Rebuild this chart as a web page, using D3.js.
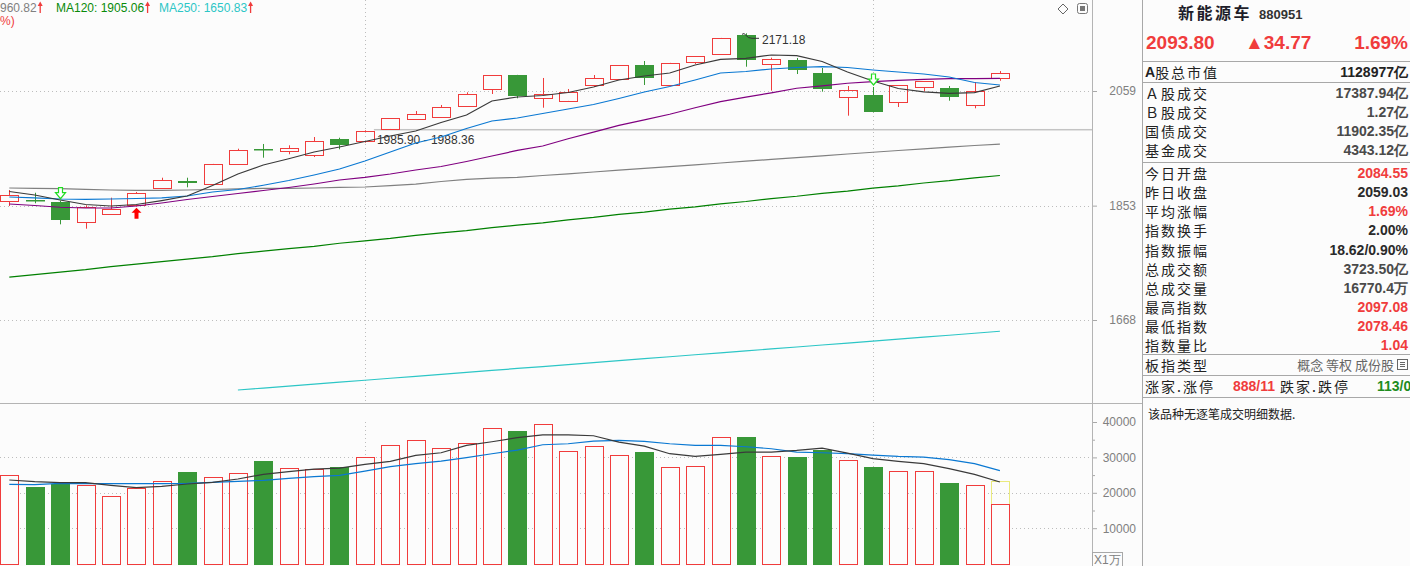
<!DOCTYPE html>
<html><head><meta charset="utf-8">
<script src="https://cdn.jsdelivr.net/npm/d3@7"></script>
<style>
body{margin:0;background:#fcfcfc;}
svg{display:block;font-family:"Liberation Sans",Arial,sans-serif;}
</style></head>
<body><svg id="c" width="1410" height="566"></svg>
<script>
// ---------- DATA ----------
const days = d3.range(40);
const open  = [1860.4,1862.6,1858.7,1825.8,1838.3,1853.6,1882.8,1894.9,1889.9,1925.0,1952.6,1949.0,1941.8,1970.1,1965.9,1988.4,2007.2,2009.8,2030.2,2062.2,2089.5,2046.4,2040.7,2071.0,2081.3,2108.8,2071.0,2115.2,2129.7,2167.8,2110.2,2119.1,2093.4,2047.1,2051.4,2037.7,2066.0,2064.7,2032.1,2084.55];
const close = [1870.7,1860.2,1829.2,1850.2,1846.8,1874.1,1896.7,1892.5,1924.8,1949.7,1950.3,1953.3,1965.9,1959.8,1984.1,2007.9,2015.9,2028.4,2053.3,2088.9,2049.6,2053.3,2057.1,2083.8,2108.2,2084.3,2112.7,2125.8,2161.2,2119.1,2120.5,2099.7,2062.2,2060.3,2020.2,2069.8,2077.5,2047.1,2059.03,2093.80];
const high  = [1879.8,1875.1,1861.4,1853.6,1866.6,1876.4,1901.2,1901.2,1925.5,1952.6,1961.1,1958.7,1973.7,1972.4,1985.90,2008.5,2021.5,2032.7,2056.5,2089.2,2089.8,2083.8,2062.8,2089.5,2108.8,2116.6,2113.0,2126.2,2162.0,2171.18,2123.0,2122.5,2103.0,2068.5,2066.6,2070.2,2078.0,2068.5,2076.1,2097.08];
const low   = [1852.4,1857.0,1821.4,1814.1,1837.5,1852.0,1882.5,1884.5,1889.5,1924.5,1936.5,1942.6,1937.7,1951.5,1963.4,1988.36,2004.8,2009.5,2029.8,2053.3,2045.2,2027.6,2040.3,2066.6,2081.0,2070.4,2069.8,2110.8,2129.4,2105.5,2059.6,2091.4,2057.7,2012.8,2019.1,2028.9,2058.4,2040.7,2026.5,2078.46];
const volume = [25130,21550,22590,22310,19210,21460,23440,25770,24560,25490,28870,27100,26820,27270,30200,33580,34990,32730,34140,38370,37320,39490,31890,33300,30760,31410,27380,27660,35830,35630,30480,30000,31970,29350,27180,26250,26250,22680,22310,16770];
const projectedVolume = 23440;

const ma5  = [1877.2,1871.2,1862.6,1854.9,1852.4,1854.9,1861.7,1869.5,1887.5,1907.7,1923.5,1934.7,1946.7,1955.6,1965.6,1975.5,1984.6,2000.2,2014.0,2040.2,2047.7,2050.5,2056.2,2066.6,2079.9,2087.6,2093.4,2108.8,2119.9,2121.9,2128.3,2127.0,2115.6,2095.3,2078.0,2063.7,2057.5,2054.6,2055.8,2068.5];
const ma10 = [1867.8,1866.1,1864.3,1863.8,1864.3,1865.2,1866.1,1869.5,1876.4,1880.7,1888.0,1896.3,1905.9,1916.5,1930.6,1946.7,1962.9,1973.7,1989.2,2003.0,2008.5,2016.8,2025.2,2033.6,2044.8,2057.1,2067.5,2079.9,2093.4,2096.3,2101.1,2104.0,2105.5,2104.0,2099.1,2095.3,2091.4,2085.7,2075.2,2070.4];
const ma20 = [1855.8,1853.2,1850.2,1849.0,1849.0,1852.4,1857.5,1863.5,1868.6,1873.8,1879.0,1884.1,1890.2,1897.2,1901.9,1907.7,1914.7,1920.9,1929.8,1939.5,1949.5,1957.5,1970.5,1982.5,1995.0,2005.0,2015.5,2027.5,2039.0,2047.5,2055.5,2064.2,2068.6,2073.7,2076.7,2079.4,2081.3,2082.5,2082.5,2083.2];
const ma60 = [1883.3,1882.8,1882.1,1881.0,1879.8,1879.3,1879.3,1879.8,1880.7,1881.6,1882.5,1882.8,1883.3,1884.2,1885.0,1887.3,1889.9,1894.6,1898.4,1900.3,1901.9,1905.1,1908.0,1911.2,1914.4,1917.5,1920.7,1923.9,1927.1,1930.3,1933.5,1936.7,1939.9,1943.1,1946.2,1949.4,1952.4,1955.5,1958.3,1960.82];
const ma120 = [1735,1739,1743,1747,1752,1756,1760,1764,1768,1773,1777,1781,1785,1790,1794,1798,1803,1807,1811,1816,1820,1824,1829,1833,1838,1842,1847,1851,1856,1860,1865,1869,1874,1878,1883,1887,1892,1896,1901,1905.06];
const ma250 = [null,null,null,null,null,null,null,null,null,1564.0,1566.8,1569.6,1572.5,1575.3,1578.1,1581.0,1583.8,1586.7,1589.5,1592.4,1595.3,1598.1,1601.0,1603.9,1606.8,1609.7,1612.6,1615.5,1618.4,1621.3,1624.2,1627.1,1630.1,1633.0,1635.9,1638.9,1641.8,1644.8,1647.8,1650.83];
const volMa5  = [23610,23150,22870,22870,22110,21470,21830,22480,22960,23890,25210,25970,26700,26990,28030,28870,30560,31320,33380,34420,35580,36390,36390,36110,34310,33180,31040,30280,30850,31490,31490,31970,32620,31210,29630,28870,28230,26820,25210,23040];
const volMa10 = [22390,22310,22680,22590,22590,22590,22590,22680,22960,23240,23520,24080,24560,24930,26140,27380,28230,28960,29920,31040,32080,33580,33860,34590,34790,34510,33860,33380,33380,33010,32450,31490,31320,31040,30650,30280,30080,29350,28230,26250];

const priceTicks = [2059, 1853, 1668];
const volTicks = [10000, 20000, 30000, 40000];
const volMinorTicks = [15000, 25000, 35000];
const volGrid = [10000, 20000, 30000];
const monthStarts = [14, 34];
const gapLow = 1985.90, gapHigh = 1988.36, gapFrom = 14;
const peakIndex = 29;
const buySignals = [5];
const sellSignals = [2, 34];

const headerItems = [["960.82","#808080"],["MA120: 1905.06","#098a09"],["MA250: 1650.83","#2cc6c6"]];

const quoteName = "新能源车", quoteCode = "880951";
const quoteTop = ["2093.80","▲34.77","1.69%"];
const mktLabel = "A股总市值", mktValue = "1128977亿";
const tradeLabels = ["Ａ股成交","Ｂ股成交","国债成交","基金成交"];
const tradeValues = ["17387.94亿","1.27亿","11902.35亿","4343.12亿"];
const statLabels = ["今日开盘","昨日收盘","平均涨幅","指数换手","指数振幅","总成交额","总成交量","最高指数","最低指数","指数量比"];
const statValues = ["2084.55","2059.03","1.69%","2.00%","18.62/0.90%","3723.50亿","16770.4万","2097.08","2078.46","1.04"];
const statKinds  = ["up","flat","up","flat","flat","gray","gray","up","up","up"];

// ---------- STYLE ----------
const RED = "#f03c3c", GREEN = "#389838", BG = "#fcfcfc";
const svg = d3.select("#c");
svg.append("rect").attr("width",1410).attr("height",566).attr("fill",BG);

const chartRight = 1092, panelLeft = 1142, priceBottom = 403;
const x = d3.scaleLinear().domain([0, 39]).range([9.3, 999.9]);
const y = d3.scaleLog().domain([1668, 2059]).range([320, 91]);
const yv = d3.scaleLinear().domain([0, 40000]).range([563.6, 422]);
const cx = i => Math.round(x(i));

const defs = svg.append("defs");
defs.append("clipPath").attr("id","cp").append("rect").attr("x",0).attr("y",0).attr("width",chartRight).attr("height",priceBottom);
defs.append("clipPath").attr("id","cv").append("rect").attr("x",0).attr("y",priceBottom+1).attr("width",chartRight).attr("height",566-priceBottom);

const gp = svg.append("g").attr("clip-path","url(#cp)");
const gv = svg.append("g").attr("clip-path","url(#cv)");

// gridlines
gp.selectAll(".pg").data(priceTicks).join("line")
  .attr("x1",0).attr("x2",chartRight).attr("y1",d=>Math.round(y(d))+0.5).attr("y2",d=>Math.round(y(d))+0.5)
  .attr("stroke","#bdbdbd").attr("stroke-dasharray","1,3");
gv.selectAll(".vg").data(volGrid).join("line")
  .attr("x1",0).attr("x2",chartRight).attr("y1",d=>Math.round(yv(d))+0.5).attr("y2",d=>Math.round(yv(d))+0.5)
  .attr("stroke","#bdbdbd").attr("stroke-dasharray","1,3");
gp.selectAll(".mv").data(monthStarts).join("line")
  .attr("x1",d=>cx(d)+0.5).attr("x2",d=>cx(d)+0.5).attr("y1",0).attr("y2",priceBottom)
  .attr("stroke","#bdbdbd").attr("stroke-dasharray","1,3");
gv.selectAll(".mv").data(monthStarts).join("line")
  .attr("x1",d=>cx(d)+0.5).attr("x2",d=>cx(d)+0.5).attr("y1",yv(40000)).attr("y2",566)
  .attr("stroke","#bdbdbd").attr("stroke-dasharray","1,3");

// long MAs
const line = d3.line().defined(d=>d!=null).x((d,i)=>x(i)).y(d=>y(d));
[[ma250,"#2cc6c6"],[ma120,"#008000"],[ma60,"#808080"]].forEach(([s,c])=>{
  gp.append("path").attr("d",line(s)).attr("fill","none").attr("stroke",c).attr("stroke-width",1.2);
});

// gap band
gp.append("rect").attr("x",x(gapFrom)+9).attr("width",chartRight-(x(gapFrom)+9))
  .attr("y",y(gapHigh)).attr("height",Math.max(1.5,y(gapLow)-y(gapHigh))).attr("fill","#c4c4c4");
gp.append("text").attr("x",x(gapFrom)+12).attr("y",y(gapLow)+14).attr("font-size",12).attr("fill","#333")
  .text(gapLow.toFixed(2)+" - "+gapHigh.toFixed(2));

// candles
days.forEach(i=>{
  const up = close[i] >= open[i];
  const c = cx(i);
  const g = gp.append("g");
  if (up) {
    const top = Math.round(y(close[i])), bot = Math.round(y(open[i]));
    g.append("line").attr("x1",c+0.5).attr("x2",c+0.5).attr("y1",y(high[i])).attr("y2",top).attr("stroke",RED);
    g.append("line").attr("x1",c+0.5).attr("x2",c+0.5).attr("y1",bot).attr("y2",y(low[i])).attr("stroke",RED);
    g.append("rect").attr("x",c-8.5).attr("y",top+0.5).attr("width",18).attr("height",Math.max(1,bot-top))
      .attr("fill","none").attr("stroke",RED);
  } else {
    const top = Math.round(y(open[i])), bot = Math.round(y(close[i]));
    g.append("line").attr("x1",c+0.5).attr("x2",c+0.5).attr("y1",y(high[i])).attr("y2",y(low[i])).attr("stroke",GREEN);
    g.append("rect").attr("x",c-9).attr("y",top).attr("width",19).attr("height",Math.max(1.5,bot-top)).attr("fill",GREEN);
  }
});

// short MAs on top
[[ma20,"#800080"],[ma10,"#0a78d2"],[ma5,"#3a3a3a"]].forEach(([s,c])=>{
  gp.append("path").attr("d",line(s)).attr("fill","none").attr("stroke",c).attr("stroke-width",1.2);
});

// peak annotation
{
  const px = cx(peakIndex), py = y(high[peakIndex]);
  gp.append("path").attr("d",`M${px-4},${py+1} Q${px-2},${py-1} ${px},${py+2} Q${px+2},${py+5} ${px+6},${py+5} L${px+13},${py+5}`)
    .attr("fill","none").attr("stroke","#333").attr("stroke-width",1);
  gp.append("text").attr("x",px+16).attr("y",py+11).attr("font-size",12).attr("fill","#333").text(high[peakIndex].toFixed(2));
}

// signal arrows
sellSignals.forEach(i=>{
  const c = cx(i)+0.5, b = y(high[i]) - 2, t = b - 11;
  gp.append("path").attr("d",`M${c-2},${t} L${c+2},${t} L${c+2},${t+5} L${c+5},${t+5} L${c},${b} L${c-5},${t+5} L${c-2},${t+5} Z`)
    .attr("fill","#fff").attr("stroke","#22dd22").attr("stroke-width",1.2);
});
buySignals.forEach(i=>{
  const c = cx(i)+0.5, t = y(low[i]) + 1.5, b = t + 11;
  gp.append("path").attr("d",`M${c},${t} L${c+5},${t+5} L${c+2},${t+5} L${c+2},${b} L${c-2},${b} L${c-2},${t+5} L${c-5},${t+5} Z`)
    .attr("fill","#ff0000");
});

// volume
days.forEach(i=>{
  const up = close[i] >= open[i];
  const c = cx(i);
  const top = Math.round(yv(volume[i])), bot = Math.round(yv(0));
  if (i === days.length-1) {
    const pt = Math.round(yv(projectedVolume));
    gv.append("rect").attr("x",c-8.5).attr("y",pt+0.5).attr("width",18).attr("height",bot-pt)
      .attr("fill","none").attr("stroke","#d8d800").attr("stroke-dasharray","1,1");
  }
  if (up) {
    gv.append("rect").attr("x",c-8.5).attr("y",top+0.5).attr("width",18).attr("height",bot-top)
      .attr("fill",BG).attr("stroke",RED);
  } else {
    gv.append("rect").attr("x",c-9).attr("y",top).attr("width",19).attr("height",bot-top+1).attr("fill",GREEN);
  }
});
const vline = d3.line().x((d,i)=>x(i)).y(d=>yv(d));
[[volMa10,"#0a78d2"],[volMa5,"#3a3a3a"]].forEach(([s,c])=>{
  gv.append("path").attr("d",vline(s)).attr("fill","none").attr("stroke",c).attr("stroke-width",1.2);
});

// axes
const ax = svg.append("g").attr("transform",`translate(${chartRight},0)`)
  .call(d3.axisRight(y).tickValues(priceTicks).tickSize(5).tickFormat(d3.format("d")));
const avx = svg.append("g").attr("transform",`translate(${chartRight},0)`)
  .call(d3.axisRight(yv).tickValues(volTicks).tickSize(5).tickFormat(d3.format("d")));
const avm = svg.append("g").attr("transform",`translate(${chartRight},0)`)
  .call(d3.axisRight(yv).tickValues(volMinorTicks).tickSize(3).tickFormat(""));
[ax,avx,avm].forEach(a=>{
  a.select(".domain").remove();
  a.selectAll(".tick line").attr("stroke","#a8a8a8");
  a.selectAll(".tick text").attr("x",44).attr("text-anchor","end").attr("fill","#808080")
    .attr("font-size",12).attr("font-family","'Liberation Sans',Arial,sans-serif");
});

// frame lines
svg.append("line").attr("x1",chartRight+0.5).attr("x2",chartRight+0.5).attr("y1",0).attr("y2",566).attr("stroke","#b4b4b4");
svg.append("line").attr("x1",panelLeft+0.5).attr("x2",panelLeft+0.5).attr("y1",0).attr("y2",566).attr("stroke","#a8a8a8");
svg.append("line").attr("x1",0).attr("x2",panelLeft).attr("y1",priceBottom+0.5).attr("y2",priceBottom+0.5).attr("stroke","#b4b4b4");
svg.append("rect").attr("x",chartRight+0.5).attr("y",552.5).attr("width",30).attr("height",14).attr("fill","none").attr("stroke","#a8a8a8");
svg.append("text").attr("x",chartRight+2).attr("y",564).attr("font-size",12).attr("fill","#808080").text("X1万");

// header
{
  const hxs = [0, 56, 159];
  headerItems.forEach(([t,c],k)=>{
    const hx = hxs[k];
    const tx = svg.append("text").attr("x",hx).attr("y",12).attr("font-size",12).attr("fill",c).text(t);
    const w = tx.node().getComputedTextLength();
    const ax0 = hx + w + 3.5;
    svg.append("path").attr("d",`M${ax0},13 L${ax0},4`).attr("stroke","#f03c3c").attr("stroke-width",1.3);
    svg.append("path").attr("d",`M${ax0-2.5},6 L${ax0},1.5 L${ax0+2.5},6 Z`).attr("fill","#f03c3c");
  });
  svg.append("text").attr("x",0).attr("y",25).attr("font-size",12).attr("fill","#f03c3c").text("%)");
  svg.append("path").attr("d","M1063,4 L1068,9 L1063,14 L1058,9 Z").attr("fill","none").attr("stroke","#666");
  svg.append("rect").attr("x",1077.5).attr("y",3.5).attr("width",10).attr("height",10).attr("rx",2).attr("fill","none").attr("stroke","#777");
  svg.append("rect").attr("x",1080).attr("y",6).attr("width",5).attr("height",5).attr("fill","#777");
}

// right panel
{
  const R = 1408, L = 1145;
  const cjk = "'Noto Sans CJK SC','Noto Sans',sans-serif";
  const num = "'Liberation Sans',Arial,sans-serif";
  const rp = svg.append("g");
  rp.append("text").attr("x",1178).attr("y",19).attr("font-family",cjk).attr("font-weight","bold").attr("font-size",16)
    .attr("letter-spacing",2.5).attr("fill","#1e1e2a").text(quoteName);
  rp.append("text").attr("x",1259).attr("y",19).attr("font-family",num).attr("font-weight","bold").attr("font-size",13).attr("fill","#333").text(quoteCode);
  rp.append("text").attr("x",1146).attr("y",49).attr("font-family",num).attr("font-weight","bold").attr("font-size",19).attr("fill",RED).text(quoteTop[0]);
  rp.append("text").attr("x",1245).attr("y",49).attr("font-family",num).attr("font-weight","bold").attr("font-size",19).attr("fill",RED).text(quoteTop[1]);
  rp.append("text").attr("x",R).attr("y",49).attr("text-anchor","end").attr("font-family",num).attr("font-weight","bold").attr("font-size",19).attr("fill",RED).text(quoteTop[2]);
  [61,82,162,354,375,397].forEach(v=>{
    rp.append("line").attr("x1",panelLeft).attr("x2",1410).attr("y1",v+0.5).attr("y2",v+0.5).attr("stroke","#a8a8a8");
  });
  const label = (t,yy,xx)=>rp.append("text").attr("x",xx||L).attr("y",yy).attr("dominant-baseline","central")
      .attr("font-family",cjk).attr("font-size",14).attr("letter-spacing",2).attr("fill","#222").text(t);
  const value = (t,yy,col)=>rp.append("text").attr("x",R).attr("y",yy).attr("text-anchor","end").attr("dominant-baseline","central")
      .attr("font-family",num).attr("font-weight","bold").attr("font-size",14).attr("fill",col).text(t);
  rp.append("text").attr("x",L).attr("y",72).attr("dominant-baseline","central").attr("font-family",cjk).attr("font-size",14).attr("fill","#222")
    .call(t=>{t.append("tspan").attr("font-weight","bold").attr("font-family",num).attr("font-size",14).text(mktLabel[0]);
              t.append("tspan").attr("letter-spacing",2).text(mktLabel.slice(1));});
  value(mktValue,72,"#222");
  tradeLabels.forEach((t,k)=>{ label(t,92.5+k*19.3); value(tradeValues[k],92.5+k*19.3,"#4a4a4a"); });
  const kc = {up:RED, flat:"#2a2a2a", gray:"#4a4a4a"};
  statLabels.forEach((t,k)=>{ label(t,173.3+k*19.05); value(statValues[k],173.3+k*19.05,kc[statKinds[k]]); });
  label("板指类型",364.5);
  rp.append("text").attr("x",1394).attr("y",364.5).attr("text-anchor","end").attr("dominant-baseline","central")
    .attr("font-family",cjk).attr("font-size",13).attr("fill","#666").text("概念 等权 成份股");
  rp.append("rect").attr("x",1397.5).attr("y",359.5).attr("width",10).attr("height",10).attr("fill","none").attr("stroke","#666");
  rp.append("path").attr("d","M1400,362.5 H1405 M1400,364.5 H1405 M1400,366.5 H1405").attr("stroke","#666");
  label("涨家.涨停",385.5);
  rp.append("text").attr("x",1233).attr("y",385.5).attr("dominant-baseline","central").attr("font-family",num).attr("font-weight","bold").attr("font-size",14).attr("fill",RED).text("888/11");
  label("跌家.跌停",385.5,1280);
  rp.append("text").attr("x",1377).attr("y",385.5).attr("dominant-baseline","central").attr("font-family",num).attr("font-weight","bold").attr("font-size",14).attr("fill","#1e8c1e").text("113/0");
  rp.append("text").attr("x",1148).attr("y",413).attr("dominant-baseline","central").attr("font-family",cjk).attr("font-size",12).attr("fill","#222").text("该品种无逐笔成交明细数据.");
}
</script></body></html>
